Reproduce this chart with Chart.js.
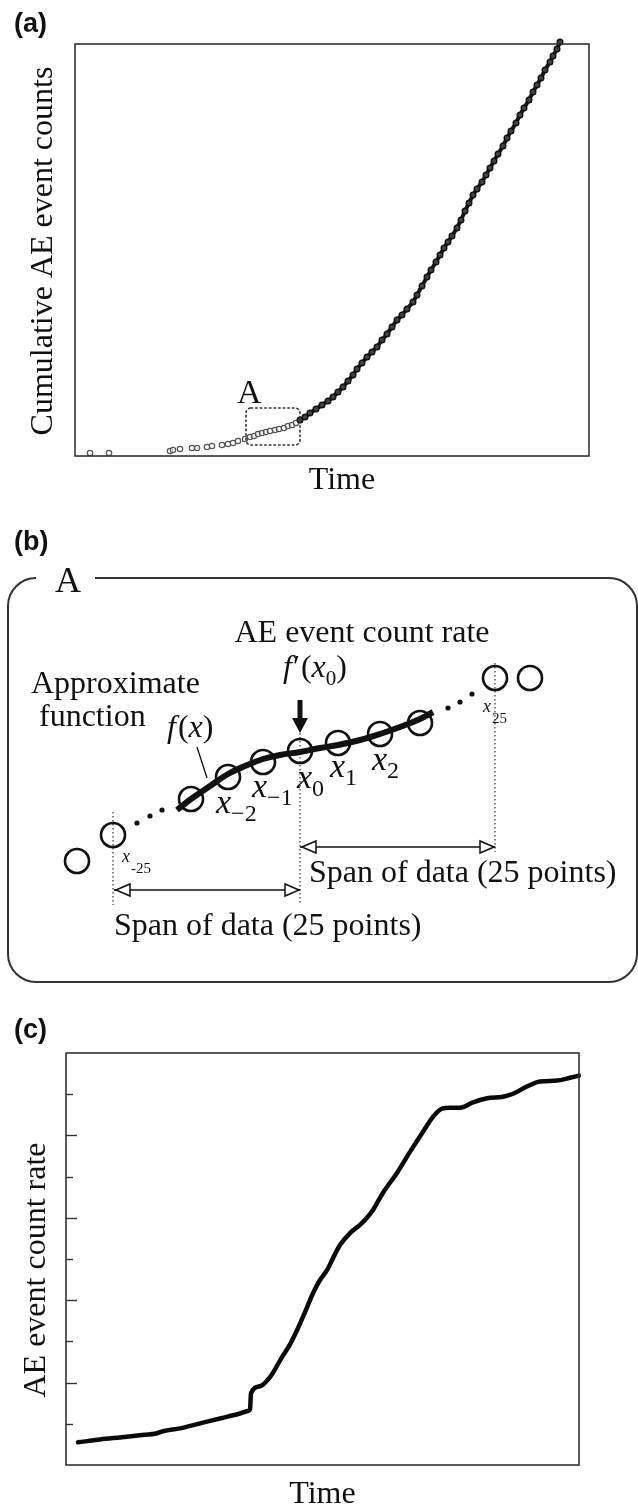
<!DOCTYPE html>
<html>
<head>
<meta charset="utf-8">
<script src="https://cdn.jsdelivr.net/npm/chart.js@4.4.1/dist/chart.umd.min.js"></script>
<style>
  html, body { margin: 0; padding: 0; background: #fff; }
  #page { position: relative; width: 638px; height: 1506px; overflow: hidden; }
  canvas { position: absolute; left: 0; }
</style>
</head>
<body>
<div id="page">
  <canvas id="chartA" width="638" height="500" style="top:0;width:638px;height:500px"></canvas>
  <canvas id="chartB" width="638" height="500" style="top:500px;width:638px;height:500px"></canvas>
  <canvas id="chartC" width="638" height="506" style="top:1000px;width:638px;height:506px"></canvas>
</div>
<script>
// (a) cumulative AE event counts vs time (arbitrary units)
const aTime = [15, 34, 95, 98, 105, 117, 122, 132, 137, 147, 153, 158, 163, 170, 175, 179, 183, 187, 191, 195,
  200, 204, 209, 213, 217, 221, 225, 230, 235, 241, 247, 253, 258, 263, 268, 273, 278, 282, 287, 292,
  297, 302, 307, 312, 317, 322, 327, 332, 338, 342, 347, 352, 356, 361, 365, 369, 373, 377, 382, 386,
  390, 394, 398, 402, 407, 411, 415, 419, 423, 428, 432, 436, 441, 445, 449, 454, 458, 462, 466, 470,
  475, 478, 482, 485];
const aCounts = [3, 3, 5, 6, 7, 8, 8, 9, 10, 11, 12, 13, 15, 17, 19, 20, 22, 23, 24, 25,
  26, 27, 28, 30, 31, 33, 36, 39, 43, 47, 51, 55, 59, 64, 69, 75, 81, 87, 93, 99,
  104, 109, 116, 122, 129, 136, 141, 147, 154, 161, 170, 179, 186, 194, 201, 208, 214, 220, 228, 236,
  245, 253, 261, 267, 274, 281, 288, 295, 302, 310, 318, 325, 333, 341, 348, 356, 364, 371, 378, 386,
  394, 400, 407, 414];
const aDenseStart = 225;            // time from which the markers merge into a band
const aZoomBox = [171, 225, 11, 48]; // region "A": time from/to, counts from/to

// (b) schematic of region A (diagram units)
const bCircleX = [77, 113, 191, 228, 263, 300, 338, 380, 420, 495, 530];
const bCircleY = [361, 335, 299, 277, 262, 251, 243, 234, 223, 178, 178];
const bFitX = [177, 191, 210, 228, 245, 263, 280, 300, 320, 338, 360, 380, 400, 420, 433];
const bFitY = [310, 299, 286, 274, 266, 259, 255, 252, 248, 245, 240, 234, 227, 219, 212];
const bDotsX = [137, 150, 162, 448, 460, 472];
const bDotsY = [323, 316, 310, 208, 202, 194];
const bGuideX = [113, 300, 495];
const bGuideTop = [312, 233, 163];
const bGuideBottom = [405, 405, 352];
const bSpanFrom = [300, 114];
const bSpanTo = [495, 300];
const bSpanY = [347, 390];

// (c) AE event count rate vs time
const cTime = [12, 34, 54, 74, 91, 97, 114, 134, 154, 174, 182, 184, 185, 194, 204, 216, 224, 231, 239, 247,
  254, 261, 268, 274, 284, 294, 301, 307, 317, 324, 331, 344, 357, 367, 376, 384, 394, 407, 421, 437,
  447, 461, 474, 491, 504, 513];
const cRate = [0.55, 0.62, 0.67, 0.72, 0.77, 0.82, 0.89, 1.01, 1.13, 1.25, 1.31, 1.35, 1.74, 1.91, 2.13, 2.62, 2.93, 3.27, 3.71, 4.17,
  4.49, 4.73, 5.07, 5.34, 5.63, 5.83, 6.00, 6.19, 6.61, 6.85, 7.09, 7.60, 8.09, 8.45, 8.65, 8.67, 8.67, 8.80, 8.90, 8.94,
  9.01, 9.19, 9.31, 9.33, 9.40, 9.45];
const cTicks = [1, 2, 3, 4, 5, 6, 7, 8, 9];

const INK = '#111';
const FRAME = '#333';
const SERIF = '"Liberation Serif", "Times New Roman", serif';
const SANS = '"Liberation Sans", Arial, sans-serif';
const R = n => `${n}px ${SERIF}`;
const I = n => `italic ${n}px ${SERIF}`;

function pts(xs, ys) {
  return xs.map((x, i) => ({ x, y: ys[i] }));
}

function drawRich(ctx, x, y, parts) {
  let cx = x;
  for (const p of parts) {
    ctx.font = p.font;
    ctx.fillText(p.t, cx, y + (p.dy || 0));
    cx += ctx.measureText(p.t).width + (p.kern || 0);
  }
}

function baseOptions(padding, xr, yr, reverseY) {
  return {
    responsive: false,
    animation: false,
    events: [],
    layout: { padding, autoPadding: false },
    plugins: { legend: { display: false }, tooltip: { enabled: false } },
    scales: {
      x: { type: 'linear', display: false, min: xr[0], max: xr[1] },
      y: { type: 'linear', display: false, min: yr[0], max: yr[1], reverse: !!reverseY }
    }
  };
}

// ---------- (a) ----------
const frameA = {
  id: 'frameA',
  afterDraw(chart) {
    const { ctx, chartArea: ca, scales: { x, y } } = chart;
    ctx.save();
    ctx.strokeStyle = FRAME;
    ctx.lineWidth = 1.6;
    ctx.strokeRect(ca.left, ca.top, ca.right - ca.left, ca.bottom - ca.top);

    // dotted box marking region A
    const bx0 = x.getPixelForValue(aZoomBox[0]), bx1 = x.getPixelForValue(aZoomBox[1]);
    const by0 = y.getPixelForValue(aZoomBox[3]), by1 = y.getPixelForValue(aZoomBox[2]);
    ctx.setLineDash([1.6, 3]);
    ctx.lineCap = 'round';
    ctx.beginPath();
    ctx.roundRect(bx0, by0, bx1 - bx0, by1 - by0, 5);
    ctx.stroke();
    ctx.setLineDash([]);

    ctx.fillStyle = INK;
    ctx.textAlign = 'left';
    ctx.textBaseline = 'alphabetic';
    ctx.font = R(34);
    ctx.fillText('A', bx0 - 9, by0 - 5);

    ctx.font = `bold 27px ${SANS}`;
    ctx.fillText('(a)', 14, 32);

    ctx.textAlign = 'center';
    ctx.font = R(32);
    ctx.fillText('Time', 342, 489);

    ctx.translate(52, (ca.top + ca.bottom) / 2 + 1);
    ctx.rotate(-Math.PI / 2);
    ctx.fillText('Cumulative AE event counts', 0, 0);
    ctx.restore();
  }
};

const aAll = pts(aTime, aCounts);
new Chart(document.getElementById('chartA'), {
  type: 'scatter',
  data: {
    datasets: [
      {
        data: aAll.filter(p => p.x >= aDenseStart),
        showLine: true,
        borderColor: '#151515',
        borderWidth: 4,
        pointRadius: 2.8,
        pointBorderWidth: 1.4,
        pointBorderColor: '#111',
        pointBackgroundColor: '#444',
        clip: false,
        order: 1
      },
      {
        data: aAll.filter(p => p.x < aDenseStart),
        pointRadius: 2.7,
        pointBorderWidth: 1.2,
        pointBorderColor: '#555',
        pointBackgroundColor: 'rgba(255,255,255,0.6)',
        clip: false,
        order: 2
      }
    ]
  },
  options: baseOptions({ left: 75, right: 49, top: 44, bottom: 44 }, [0, 514], [0, 412]),
  plugins: [frameA]
});

// ---------- (b) ----------
const diagramB = {
  id: 'diagramB',
  beforeDatasetsDraw(chart) {
    const { ctx, scales: { x, y } } = chart;
    ctx.save();
    // rounded frame with a gap for the "A" title
    const left = x.getPixelForValue(8), right = x.getPixelForValue(637);
    const top = y.getPixelForValue(78), bottom = y.getPixelForValue(482);
    const r = 28;
    ctx.strokeStyle = FRAME;
    ctx.lineWidth = 2;
    ctx.beginPath();
    ctx.moveTo(x.getPixelForValue(95), top);
    ctx.arcTo(right, top, right, bottom, r);
    ctx.arcTo(right, bottom, left, bottom, r);
    ctx.arcTo(left, bottom, left, top, r);
    ctx.arcTo(left, top, right, top, r);
    ctx.stroke();

    // dotted guides
    ctx.strokeStyle = '#333';
    ctx.lineWidth = 1.2;
    ctx.setLineDash([1.5, 2.5]);
    bGuideX.forEach((gx, i) => {
      const px = x.getPixelForValue(gx);
      ctx.beginPath();
      ctx.moveTo(px, y.getPixelForValue(bGuideTop[i]));
      ctx.lineTo(px, y.getPixelForValue(bGuideBottom[i]));
      ctx.stroke();
    });
    ctx.setLineDash([]);
    ctx.restore();
  },
  afterDatasetsDraw(chart) {
    const { ctx, scales: { x, y } } = chart;
    ctx.save();
    ctx.strokeStyle = INK;
    ctx.fillStyle = INK;

    // open arrow heads on the two spans
    const head = (tx, ty, dir) => {
      ctx.beginPath();
      ctx.moveTo(tx, ty);
      ctx.lineTo(tx - dir * 14, ty - 6);
      ctx.lineTo(tx - dir * 14, ty + 6);
      ctx.closePath();
      ctx.fillStyle = '#fff';
      ctx.fill();
      ctx.lineWidth = 1.5;
      ctx.stroke();
    };
    bSpanY.forEach((sy, i) => {
      const py = y.getPixelForValue(sy);
      head(x.getPixelForValue(bSpanFrom[i]) + 2, py, -1);
      head(x.getPixelForValue(bSpanTo[i]) - 1, py, 1);
    });

    // solid arrow pointing at x0
    const ax = x.getPixelForValue(300);
    ctx.fillStyle = INK;
    ctx.fillRect(ax - 2.5, y.getPixelForValue(200), 5, 20);
    ctx.beginPath();
    ctx.moveTo(ax - 8, y.getPixelForValue(218));
    ctx.lineTo(ax + 8, y.getPixelForValue(218));
    ctx.lineTo(ax, y.getPixelForValue(233));
    ctx.closePath();
    ctx.fill();

    // leader from f(x) to the curve
    ctx.lineWidth = 1.3;
    ctx.beginPath();
    ctx.moveTo(x.getPixelForValue(197), y.getPixelForValue(247));
    ctx.lineTo(x.getPixelForValue(207), y.getPixelForValue(278));
    ctx.stroke();

    // texts
    ctx.textBaseline = 'alphabetic';
    ctx.textAlign = 'left';
    ctx.font = `bold 27px ${SANS}`;
    ctx.fillText('(b)', 14, 50);
    ctx.font = R(36);
    ctx.fillText('A', 55, 92);

    ctx.font = R(32);
    ctx.textAlign = 'center';
    ctx.fillText('AE event count rate', 362, 142);
    ctx.textAlign = 'left';
    ctx.fillText('Approximate', 31, 193);
    ctx.fillText('function', 39, 226);
    ctx.fillText('Span of data (25 points)', 309, 382);
    ctx.fillText('Span of data (25 points)', 114, 435);

    drawRich(ctx, 283, 177, [
      { t: 'f', font: I(32), kern: 1 },
      { t: '\u2032', font: R(32), kern: 1 },
      { t: '(', font: R(32) },
      { t: 'x', font: I(32) },
      { t: '0', font: R(21), dy: 8 },
      { t: ')', font: R(32) }
    ]);
    drawRich(ctx, 167, 237, [
      { t: 'f', font: I(32), kern: 2 },
      { t: '(', font: R(32) },
      { t: 'x', font: I(32) },
      { t: ')', font: R(32) }
    ]);

    const subLabels = [
      { x: 216, y: 313, sub: '\u22122' },
      { x: 252, y: 297, sub: '\u22121' },
      { x: 297, y: 288, sub: '0' },
      { x: 330, y: 277, sub: '1' },
      { x: 372, y: 270, sub: '2' }
    ];
    subLabels.forEach(l => drawRich(ctx, l.x, l.y, [
      { t: 'x', font: I(34) },
      { t: l.sub, font: R(24), dy: 8 }
    ]));
    drawRich(ctx, 483, 212, [{ t: 'x', font: I(18), kern: 1 }, { t: '25', font: R(15), dy: 11 }]);
    drawRich(ctx, 122, 362, [{ t: 'x', font: I(18), kern: 1 }, { t: '-25', font: R(15), dy: 11 }]);
    ctx.restore();
  }
};

const spanData = bSpanY.map((sy, i) => ({
  type: 'line',
  data: [{ x: bSpanFrom[i], y: sy }, { x: bSpanTo[i], y: sy }],
  borderColor: INK,
  borderWidth: 1.5,
  pointRadius: 0,
  order: 4
}));

new Chart(document.getElementById('chartB'), {
  type: 'scatter',
  data: {
    datasets: [
      {
        type: 'line',
        data: pts(bFitX, bFitY),
        borderColor: INK,
        borderWidth: 6,
        borderCapStyle: 'butt',
        tension: 0.4,
        pointRadius: 0,
        order: 1
      },
      {
        data: pts(bCircleX, bCircleY),
        pointRadius: 12,
        pointBorderWidth: 2.6,
        pointBorderColor: INK,
        pointBackgroundColor: 'rgba(0,0,0,0)',
        order: 2
      },
      {
        data: pts(bDotsX, bDotsY),
        pointRadius: 2.6,
        pointBorderWidth: 0,
        pointBackgroundColor: INK,
        order: 3
      },
      ...spanData
    ]
  },
  options: baseOptions({ left: 0, right: 0, top: 0, bottom: 0 }, [0, 638], [0, 500], true),
  plugins: [diagramB]
});

// ---------- (c) ----------
const frameC = {
  id: 'frameC',
  afterDraw(chart) {
    const { ctx, chartArea: ca, scales: { y } } = chart;
    ctx.save();
    ctx.strokeStyle = FRAME;
    ctx.lineWidth = 1.6;
    ctx.strokeRect(ca.left, ca.top, ca.right - ca.left, ca.bottom - ca.top);
    ctx.lineWidth = 1.4;
    cTicks.forEach(v => {
      const py = Math.round(y.getPixelForValue(v)) + 0.5;
      ctx.beginPath();
      ctx.moveTo(ca.left, py);
      ctx.lineTo(ca.left + (v % 2 === 0 ? 11 : 7), py);
      ctx.stroke();
    });

    ctx.fillStyle = INK;
    ctx.textBaseline = 'alphabetic';
    ctx.textAlign = 'left';
    ctx.font = `bold 27px ${SANS}`;
    ctx.fillText('(c)', 14, 38);

    ctx.textAlign = 'center';
    ctx.font = R(32);
    ctx.fillText('Time', (ca.left + ca.right) / 2, 503);

    ctx.translate(45, 270);
    ctx.rotate(-Math.PI / 2);
    ctx.fillText('AE event count rate', 0, 0);
    ctx.restore();
  }
};

new Chart(document.getElementById('chartC'), {
  type: 'line',
  data: {
    datasets: [{
      data: pts(cTime, cRate),
      borderColor: '#0a0a0a',
      borderWidth: 4.5,
      borderJoinStyle: 'round',
      borderCapStyle: 'round',
      cubicInterpolationMode: 'monotone',
      pointRadius: 0,
      clip: false
    }]
  },
  options: baseOptions({ left: 66, right: 59, top: 53, bottom: 41 }, [0, 513], [0, 10]),
  plugins: [frameC]
});
</script>
</body>
</html>
